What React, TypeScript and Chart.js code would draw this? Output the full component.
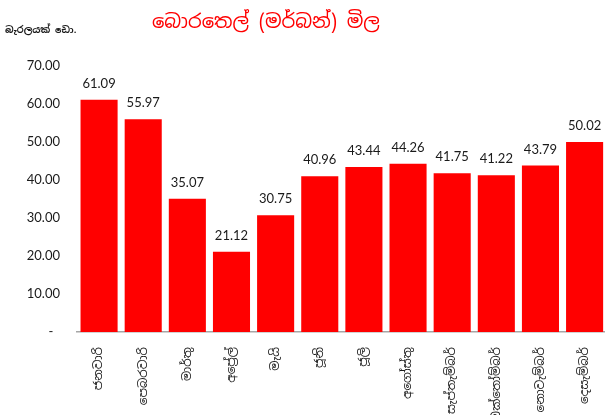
import React, { useEffect, useRef } from "react";
import { Chart, registerables } from "chart.js";

Chart.register(...registerables);

const categories = [
  "ජනවාරි",
  "පෙබරවාරි",
  "මාර්තු",
  "අප්‍රේල්",
  "මැයි",
  "ජූනි",
  "ජූලි",
  "අගෝස්තු",
  "සැප්තැම්බර්",
  "ඔක්තෝම්බර්",
  "නොවැම්බර්",
  "දෙසැම්බර්",
];
const prices = [61.09, 55.97, 35.07, 21.12, 30.75, 40.96, 43.44, 44.26, 41.75, 41.22, 43.79, 50.02];
const titleText = "බොරතෙල් (මර්බන්) මිල";
const unitText = "බැරලයක් ඩො.";
const yMin = 0;
const yMax = 70;
const yStep = 10;

const NUM_FONT = "Lato, 'Open Sans', sans-serif";
const SI_FONT = "'Noto Sans Sinhala', 'Noto Sans', sans-serif";

const labelsPlugin = {
  id: "customText",
  afterDatasetsDraw(chart: any) {
    const ctx = chart.ctx;
    const meta = chart.getDatasetMeta(0);
    ctx.save();
    ctx.font = `13px ${NUM_FONT}`;
    ctx.fillStyle = "#1a1a1a";
    ctx.textAlign = "center";
    ctx.textBaseline = "alphabetic";
    meta.data.forEach((bar: any, i: number) => {
      ctx.fillText(prices[i].toFixed(2), bar.x, bar.y - 12);
    });
    ctx.restore();
  },
  afterDraw(chart: any) {
    const ctx = chart.ctx;
    ctx.save();
    ctx.fillStyle = "#ff0000";
    ctx.font = `19.5px ${SI_FONT}`;
    ctx.textAlign = "center";
    ctx.textBaseline = "middle";
    ctx.fillText(titleText, 266, 23);
    ctx.fillStyle = "#1a1a1a";
    ctx.font = `bold 9.5px ${SI_FONT}`;
    ctx.textAlign = "left";
    ctx.fillText(unitText, 5, 30);
    ctx.restore();
  },
};

export default function App() {
  const ref = useRef<HTMLCanvasElement>(null);
  useEffect(() => {
    if (!ref.current) return;
    const chart = new Chart(ref.current, {
      type: "bar",
      data: {
        labels: categories,
        datasets: [
          {
            data: prices,
            backgroundColor: "#ff0000",
            borderWidth: 0,
            barPercentage: 0.84,
            categoryPercentage: 1,
          },
        ],
      },
      options: {
        responsive: false,
        animation: false,
        layout: { padding: { top: 66, right: 0, left: 0, bottom: 0 } },
        plugins: {
          legend: { display: false },
          title: { display: false },
          tooltip: { enabled: false },
        },
        scales: {
          x: {
            grid: { display: false, drawTicks: false },
            border: { display: true, color: "#a6a6a6", width: 1.5 },
            ticks: {
              minRotation: 90,
              maxRotation: 90,
              autoSkip: false,
              padding: 15,
              color: "#1a1a1a",
              font: { family: SI_FONT, size: 12 },
            },
            afterFit(scale: any) {
              scale.height = 83;
            },
          },
          y: {
            min: yMin,
            max: yMax,
            grid: { display: false, drawTicks: false },
            border: { display: false },
            ticks: {
              stepSize: yStep,
              padding: 17,
              color: "#1a1a1a",
              font: { family: NUM_FONT, size: 13 },
              callback: (v: any) => (Number(v) === 0 ? "-  " : Number(v).toFixed(2)),
            },
            afterFit(scale: any) {
              scale.width = 77;
            },
          },
        },
      },
      plugins: [labelsPlugin],
    });
    return () => chart.destroy();
  }, []);
  return (
    <div style={{ position: "fixed", left: 0, top: 0, width: 605, height: 415, overflow: "hidden", background: "#fff" }}>
      <canvas ref={ref} width={614} height={415} style={{ display: "block" }} />
    </div>
  );
}
